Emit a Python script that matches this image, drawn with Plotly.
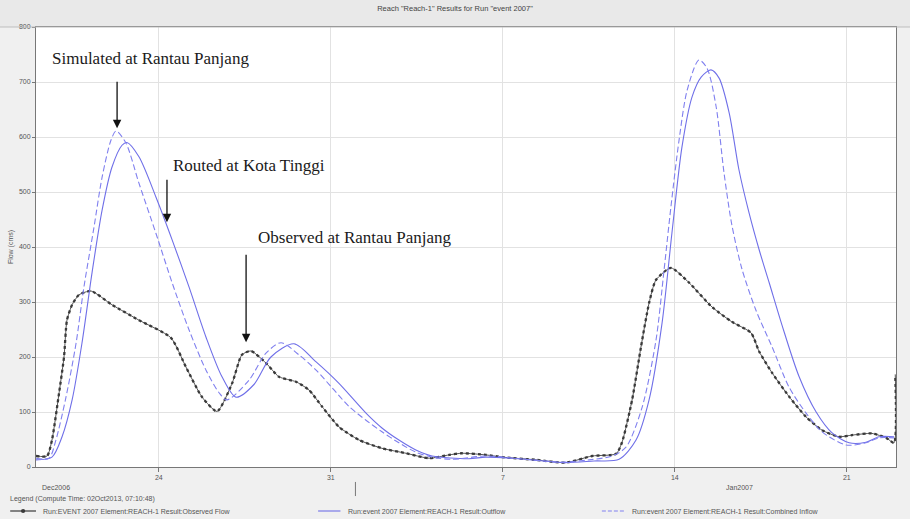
import pandas as pd
import plotly.graph_objects as go

# Flow hydrographs for Reach-1, event 2007 (days since 19 Dec 2006, flow in cms)
obs_day = [0.0, 0.45, 0.65, 0.94, 1.14, 1.26, 1.47, 1.75, 2.24, 3.09, 4.19, 5.49,
           6.10, 6.76, 7.37, 7.98, 8.38, 8.75, 9.36, 9.89, 10.58, 11.11, 11.64,
           12.33, 13.15, 14.08, 15.06, 16.0, 16.81, 17.34, 18.31, 18.97, 20.35,
           21.57, 22.63, 23.61, 23.85, 24.26, 24.62, 24.95, 25.23, 25.84, 26.58,
           27.51, 28.32, 29.10, 29.43, 29.96, 30.65, 31.34, 31.99, 32.68, 33.21,
           34.02, 34.60, 34.92, 34.97]
obs_flow = [20, 20, 49, 135, 200, 267, 295, 313, 320, 295, 267, 235,
            182, 127, 101, 152, 204, 211, 189, 164, 155, 140, 110,
            73, 49, 34, 25, 16, 22, 25, 22, 18, 13,
            8, 20, 24, 45, 122, 218, 298, 340, 362, 335,
            291, 264, 244, 210, 171, 128, 91, 67, 55, 58,
            61, 53, 44, 168]

inflow_day = [0.0, 0.53, 0.81, 1.22, 1.63, 1.95, 2.36, 2.69, 3.05, 3.26, 3.66,
              4.19, 4.88, 5.54, 6.23, 6.92, 7.45, 7.77, 8.67, 9.36, 9.97, 10.70,
              11.40, 12.05, 12.74, 13.43, 14.08, 14.77, 15.46, 16.12, 16.93,
              18.31, 19.66, 21.41, 22.51, 23.44, 24.01, 24.67, 25.23, 25.56,
              25.84, 26.17, 26.50, 26.98, 27.31, 27.68, 28.00, 28.32, 28.73,
              29.30, 29.96, 30.65, 31.34, 31.99, 32.97, 33.78, 34.31, 34.92]
inflow_flow = [16, 16, 49, 127, 225, 327, 436, 527, 594, 611, 589,
               516, 425, 335, 249, 176, 135, 122, 158, 207, 226, 204,
               176, 144, 110, 85, 64, 44, 27, 18, 14,
               20, 15, 9, 13, 20, 36, 109, 230, 358,
               473, 594, 685, 740, 725, 655, 535, 440, 360,
               285, 218, 145, 98, 64, 40, 44, 53, 53]

outflow_day = [0.0, 0.65, 1.06, 1.47, 1.87, 2.28, 2.69, 3.09, 3.50, 3.70, 4.19,
               4.88, 5.54, 6.23, 6.92, 7.57, 8.14, 8.87, 9.56, 10.50, 11.40,
               12.33, 13.43, 14.08, 14.77, 15.46, 16.12, 17.62, 18.31, 19.66,
               21.49, 22.71, 23.73, 24.42, 24.95, 25.48, 25.88, 26.29, 26.70,
               27.07, 27.47, 27.80, 28.21, 28.61, 29.02, 29.43, 29.84, 30.36,
               31.05, 31.75, 32.40, 33.09, 33.78, 34.31, 34.92]
outflow_flow = [13, 18, 55, 122, 225, 353, 467, 545, 585, 590, 564,
                491, 413, 327, 236, 164, 127, 150, 200, 224, 191,
                152, 98, 71, 49, 31, 20, 15, 18, 15,
                8, 11, 14, 49, 122, 262, 425, 582, 673,
                709, 722, 707, 644, 540, 462, 395, 335, 258,
                165, 100, 62, 44, 45, 55, 55]

tick_days = [5, 12, 19, 26, 33]
tick_text = ["24", "31", "7", "14", "21"]
y_ticks = [0, 100, 200, 300, 400, 500, 600, 700, 800]

series_names = ["Run:EVENT 2007 Element:REACH-1 Result:Observed Flow",
                "Run:event 2007 Element:REACH-1 Result:Outflow",
                "Run:event 2007 Element:REACH-1 Result:Combined Inflow"]

start = pd.Timestamp("2006-12-19")


def to_time(days):
    return [start + pd.Timedelta(days=d) for d in days]


BLUE = "#6f6fe8"
BLUE_DASH = "#8080ef"
DARK = "#3a3a3a"
SMALL = dict(family="Arial", size=7, color="#555555")

fig = go.Figure()

fig.add_trace(go.Scatter(
    x=to_time(obs_day), y=obs_flow, mode="lines",
    line=dict(color="#555555", width=1, shape="spline", smoothing=0.6),
    showlegend=False, hoverinfo="skip"))
fig.add_trace(go.Scatter(
    x=to_time(obs_day), y=obs_flow, mode="lines", name=series_names[0],
    line=dict(color=DARK, width=2.3, dash="dot", shape="spline", smoothing=0.6)))
fig.add_trace(go.Scatter(
    x=to_time(outflow_day), y=outflow_flow, mode="lines", name=series_names[1],
    line=dict(color=BLUE, width=1.1, shape="spline", smoothing=0.8)))
fig.add_trace(go.Scatter(
    x=to_time(inflow_day), y=inflow_flow, mode="lines", name=series_names[2],
    line=dict(color=BLUE_DASH, width=1.1, dash="6px,3px", shape="spline", smoothing=0.8)))

# title band across the top of the window
fig.add_shape(type="rect", xref="paper", yref="paper",
              x0=-0.06, x1=1.03, y0=1.0, y1=1.0614,
              fillcolor="#e9e9e9", line=dict(width=0), layer="below")
fig.add_shape(type="line", xref="paper", yref="paper",
              x0=-0.06, x1=1.03, y0=1.0, y1=1.0,
              line=dict(color="#bdbdbd", width=1))
# month boundary marker
fig.add_shape(type="line", xref="x", yref="paper",
              x0=start + pd.Timedelta(days=13), x1=start + pd.Timedelta(days=13),
              y0=-0.034, y1=-0.066, line=dict(color="#777777", width=1))

annotations = [
    dict(text="Dec2006", x=0.005, y=-0.046),
    dict(text="Jan2007", x=0.80, y=-0.046),
    dict(text="Legend (Compute Time: 02Oct2013, 07:10:48)", x=-0.033, y=-0.072),
]
for a in annotations:
    fig.add_annotation(xref="paper", yref="paper", xanchor="left", yanchor="middle",
                       showarrow=False, font=SMALL, **a)

# legend row along the bottom edge
LEG_Y = -0.1
legend_keys = [
    (-0.03, 0.0, dict(color=DARK, width=1.2), series_names[0]),
    (0.328, 0.354, dict(color=BLUE, width=1.1), series_names[1]),
    (0.658, 0.685, dict(color=BLUE_DASH, width=1.1, dash="4px,2px"), series_names[2]),
]
for x0, x1, ln, label in legend_keys:
    fig.add_shape(type="line", xref="paper", yref="paper", x0=x0, x1=x1,
                  y0=LEG_Y, y1=LEG_Y, line=ln)
    fig.add_annotation(xref="paper", yref="paper", x=x1 + 0.006, y=LEG_Y,
                       xanchor="left", yanchor="middle", text=label,
                       showarrow=False, font=SMALL)
fig.add_shape(type="circle", xref="paper", yref="paper",
              x0=-0.0175, x1=-0.0125, y0=LEG_Y - 0.0045, y1=LEG_Y + 0.0045,
              fillcolor=DARK, line=dict(width=0))

SERIF = dict(family="Liberation Serif", size=17, color="#1a1a1a")
for txt, px, py in [("Simulated at Rantau Panjang", 0.1326, 0.9295),
                    ("Routed at Kota Tinggi", 0.2477, 0.686),
                    ("Observed at Rantau Panjang", 0.3709, 0.5227)]:
    fig.add_annotation(xref="paper", yref="paper", x=px, y=py, xanchor="center",
                       yanchor="middle", text=txt, showarrow=False, font=SERIF)

ARROW = dict(showarrow=True, arrowhead=2, arrowsize=1.3, arrowwidth=1.3,
             arrowcolor="#111111", ax=0, text="")
fig.add_annotation(x=start + pd.Timedelta(days=3.30), y=616, ay=-48, **ARROW)
fig.add_annotation(x=start + pd.Timedelta(days=5.33), y=445, ay=-44, **ARROW)
fig.add_annotation(x=start + pd.Timedelta(days=8.55), y=227, ay=-89, **ARROW)

fig.update_layout(
    width=910, height=519,
    margin=dict(l=36, r=14, t=27, b=52, autoexpand=False),
    paper_bgcolor="#f0f0f0", plot_bgcolor="#ffffff",
    title=dict(text='Reach "Reach-1" Results for Run "event 2007"',
               x=0.5, xanchor="center", y=0.983, yanchor="middle",
               font=dict(family="Arial", size=7.5, color="#444444")),
    showlegend=False,
)
fig.update_xaxes(
    range=[start, start + pd.Timedelta(days=35)],
    tickvals=to_time(tick_days), ticktext=tick_text,
    ticks="outside", ticklen=4, tickcolor="#777777", tickfont=SMALL,
    showgrid=True, gridcolor="#e2e2e2", gridwidth=1,
    showline=True, linecolor="#777777", linewidth=1, mirror=True, zeroline=False,
)
fig.update_yaxes(
    range=[0, 800], tickvals=y_ticks, ticks="outside", ticklen=3,
    tickcolor="#777777", tickfont=SMALL,
    showgrid=True, gridcolor="#e2e2e2", gridwidth=1,
    showline=True, linecolor="#777777", linewidth=1, mirror=True, zeroline=False,
    title=dict(text="Flow (cms)", font=SMALL, standoff=4),
)

fig.write_html("out.html")
